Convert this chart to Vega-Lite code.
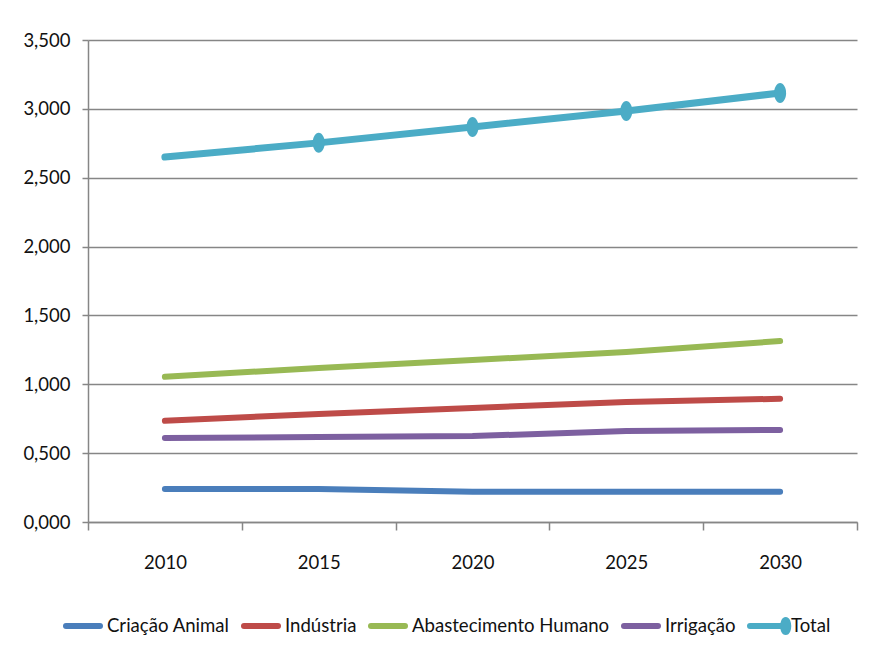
{
  "$schema": "https://vega.github.io/schema/vega-lite/v6.json",
  "width": 769,
  "height": 482,
  "autosize": {"type": "none"},
  "padding": {"left": 88, "top": 40, "right": 15, "bottom": 143},
  "background": "white",
  "config": {
    "font": "Lato",
    "view": {"stroke": null},
    "axis": {
      "labelFont": "Lato",
      "labelFontSize": 18.5,
      "labelColor": "#111111",
      "domainColor": "#868686",
      "domainWidth": 1.5,
      "tickColor": "#868686",
      "tickWidth": 1.5,
      "title": null
    }
  },
  "data": {
    "values": [
      {"ano": "2010", "uso": "Criação Animal", "valor": 0.240},
      {"ano": "2015", "uso": "Criação Animal", "valor": 0.240},
      {"ano": "2020", "uso": "Criação Animal", "valor": 0.220},
      {"ano": "2025", "uso": "Criação Animal", "valor": 0.220},
      {"ano": "2030", "uso": "Criação Animal", "valor": 0.220},
      {"ano": "2010", "uso": "Indústria", "valor": 0.735},
      {"ano": "2015", "uso": "Indústria", "valor": 0.784},
      {"ano": "2020", "uso": "Indústria", "valor": 0.828},
      {"ano": "2025", "uso": "Indústria", "valor": 0.871},
      {"ano": "2030", "uso": "Indústria", "valor": 0.895},
      {"ano": "2010", "uso": "Abastecimento Humano", "valor": 1.055},
      {"ano": "2015", "uso": "Abastecimento Humano", "valor": 1.118},
      {"ano": "2020", "uso": "Abastecimento Humano", "valor": 1.176},
      {"ano": "2025", "uso": "Abastecimento Humano", "valor": 1.235},
      {"ano": "2030", "uso": "Abastecimento Humano", "valor": 1.314},
      {"ano": "2010", "uso": "Irrigação", "valor": 0.610},
      {"ano": "2015", "uso": "Irrigação", "valor": 0.617},
      {"ano": "2020", "uso": "Irrigação", "valor": 0.624},
      {"ano": "2025", "uso": "Irrigação", "valor": 0.661},
      {"ano": "2030", "uso": "Irrigação", "valor": 0.668},
      {"ano": "2010", "uso": "Total", "valor": 2.650},
      {"ano": "2015", "uso": "Total", "valor": 2.753},
      {"ano": "2020", "uso": "Total", "valor": 2.869},
      {"ano": "2025", "uso": "Total", "valor": 2.985},
      {"ano": "2030", "uso": "Total", "valor": 3.115}
    ]
  },
  "encoding": {
    "x": {
      "field": "ano",
      "type": "ordinal",
      "bandPosition": 0.5,
      "scale": {"type": "band", "paddingInner": 0, "paddingOuter": 0},
      "axis": {
        "labelAngle": 0,
        "tickBand": "extent",
        "tickSize": 8,
        "labelPadding": 23,
        "grid": false
      }
    },
    "y": {
      "field": "valor",
      "type": "quantitative",
      "scale": {"domain": [0, 3.5], "nice": false, "zero": true},
      "axis": {
        "values": [0, 0.5, 1, 1.5, 2, 2.5, 3, 3.5],
        "labelExpr": "replace(format(datum.value, '.3f'), '.', ',')",
        "grid": true,
        "gridColor": "#868686",
        "gridWidth": 1.5,
        "tickSize": 6,
        "labelPadding": 12
      }
    }
  },
  "layer": [
    {
      "transform": [{"filter": "datum.uso !== 'Total'"}],
      "mark": {"type": "line", "strokeWidth": 6, "strokeCap": "round", "strokeJoin": "round"},
      "encoding": {
        "color": {
          "field": "uso",
          "type": "nominal",
          "scale": {
            "domain": ["Criação Animal", "Indústria", "Abastecimento Humano", "Irrigação", "Total"],
            "range": ["#4A7EBB", "#BE4B48", "#98B954", "#7D60A0", "#4BACC6"]
          },
          "legend": {
            "title": null,
            "orient": "none",
            "direction": "horizontal",
            "legendX": -25,
            "legendY": 566,
            "padding": 0,
            "symbolType": "stroke",
            "symbolSize": 1156,
            "symbolStrokeWidth": 6,
            "labelFontSize": 18.6,
            "labelColor": "#111111",
            "labelFont": "Lato",
            "labelOffset": 4,
            "columnPadding": 2,
            "labelLimit": 400,
            "encode": {
              "symbols": {
                "update": {
                  "strokeCap": {"value": "round"},
                  "fill": {"scale": "color", "field": "value"},
                  "shape": {"signal": "datum.value === 'Total' ? 'M-1,0L1,0M1.1,-0.35C1.1828,-0.35 1.25,-0.1933 1.25,0C1.25,0.1933 1.1828,0.35 1.1,0.35C1.0172,0.35 0.95,0.1933 0.95,0C0.95,-0.1933 1.0172,-0.35 1.1,-0.35Z' : 'M-1,0L1,0M0,-0.35M0,0.35'"}
                }
              }
            }
          }
        }
      }
    },
    {
      "transform": [{"filter": "datum.uso === 'Total'"}],
      "mark": {"type": "line", "strokeWidth": 7, "strokeCap": "round", "strokeJoin": "round"},
      "encoding": {
        "color": {"field": "uso", "type": "nominal"}
      }
    },
    {
      "transform": [{"filter": "datum.uso === 'Total' && datum.ano !== '2010'"}],
      "mark": {
        "type": "point",
        "filled": true,
        "opacity": 1,
        "color": "#4BACC6",
        "size": 400,
        "shape": "M0,-1A0.6,1 0 1,1 0,1A0.6,1 0 1,1 0,-1Z"
      }
    }
  ]
}
